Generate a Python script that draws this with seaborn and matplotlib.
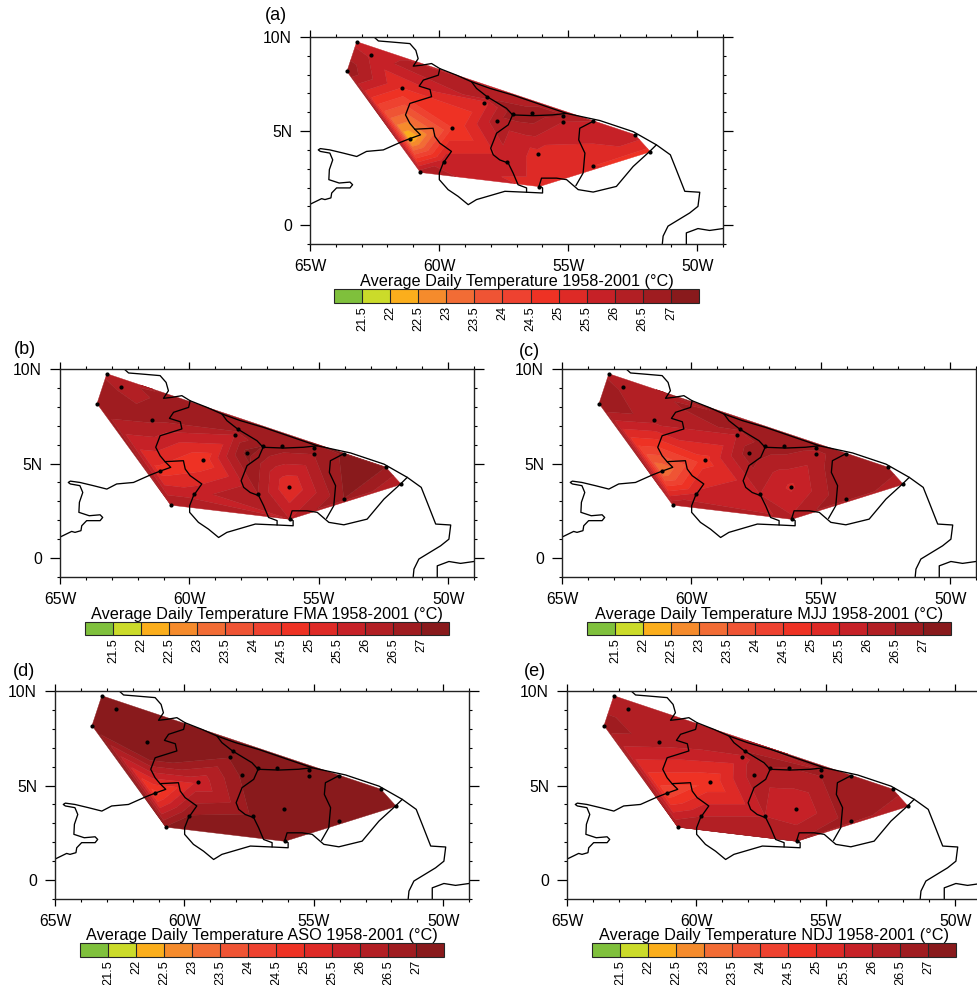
# Average daily temperature maps, five panels, stations interpolated on the Guianas
import numpy as np
import matplotlib
matplotlib.use('Agg')
import matplotlib.pyplot as plt
import seaborn as sns

sns.set_theme(style='white')
plt.rcParams['font.family'] = ['Liberation Sans', 'DejaVu Sans']
plt.rcParams['axes.linewidth'] = 1.0
plt.rcParams['text.color'] = 'black'
plt.rcParams['axes.labelcolor'] = 'black'
plt.rcParams['xtick.color'] = 'black'
plt.rcParams['ytick.color'] = 'black'

# station positions
station_lon = [-63.19, -62.64, -63.57, -61.45, -61.13, -60.72, -59.81, -59.49, -58.25, -58.14, -57.77,
               -57.15, -57.35, -56.41, -56.15, -56.12, -55.18, -55.19, -54.03, -54.03, -52.41, -51.81]
station_lat = [9.75, 9.03, 8.17, 7.30, 4.60, 2.80, 3.37, 5.17, 6.51, 6.81, 5.56,
               5.93, 3.37, 5.94, 3.77, 2.05, 5.82, 5.49, 5.52, 3.14, 4.81, 3.90]

# temperature at each station for each panel
temp_annual = [25.8, 25.9, 26.9, 25.0, 22.0, 26.3, 25.8, 24.5, 25.3, 26.4, 26.3,
               26.8, 25.8, 26.9, 25.3, 25.3, 26.6, 26.0, 26.0, 25.0, 25.8, 24.8]
temp_fma = [26.4, 26.4, 27.0, 26.6, 24.8, 26.5, 25.8, 24.6, 26.0, 26.8, 27.2,
            27.0, 26.5, 26.8, 25.0, 26.0, 26.8, 26.5, 27.1, 27.0, 27.0, 26.0]
temp_mjj = [26.4, 26.4, 27.0, 26.2, 23.0, 26.4, 25.6, 24.8, 26.0, 26.6, 26.8,
            26.8, 26.0, 26.8, 25.4, 26.1, 26.6, 26.3, 26.9, 27.0, 26.9, 26.0]
temp_aso = [27.3, 27.3, 27.4, 28.5, 24.3, 27.05, 27.05, 25.6, 27.05, 27.3, 27.1,
            27.4, 27.1, 27.4, 27.3, 27.3, 27.4, 27.3, 27.3, 27.3, 27.2, 27.1]
temp_ndj = [26.0, 26.2, 26.8, 26.2, 24.2, 26.5, 26.0, 24.6, 25.8, 26.5, 26.3,
            26.5, 26.0, 26.5, 25.5, 26.5, 26.5, 26.5, 26.9, 26.8, 26.8, 26.0]

# coast and borders, lon then lat
coast_lon = [-62.52, -62.35, -61.90, -61.13, -60.90, -60.81, -61.0, -60.68, -60.29, -59.97, -59.32, -58.74, -58.03,
             -57.13, -55.06, -53.77, -52.48, -51.58, -51.04, -50.81, -50.48, -49.90, -49.97, -50.29, -51.13, -51.32, -51.35]
coast_lat = [10.0, 9.79, 9.74, 9.65, 9.29, 8.85, 8.45, 8.50, 8.59, 8.32, 7.97, 7.62, 7.27,
             6.91, 5.94, 5.56, 4.97, 4.27, 3.74, 2.95, 1.80, 1.75, 1.0, 0.65, -0.05, -0.58, -0.99]
delta_lon = [-50.42, -50.42, -49.97, -49.52, -49.0]
delta_lat = [-1.0, -0.41, -0.18, -0.28, -0.18]
west_lon = [-59.97, -60.03, -60.61, -60.77, -60.35, -60.29, -61.13, -61.30, -61.13, -60.94, -60.72, -61.13, -61.52, -62.16, -62.81,
            -63.19, -63.71, -64.23, -64.60, -64.68, -64.60, -64.23, -64.12, -64.25, -64.27, -63.87, -63.45, -63.35, -63.45, -63.97,
            -64.16, -64.19, -64.42, -64.55, -65.0]
west_lat = [8.32, 7.97, 7.71, 7.39, 7.21, 6.83, 6.47, 5.86, 5.41, 5.10, 4.80, 4.60, 4.39, 4.00, 3.92,
            3.65, 3.83, 4.0, 4.07, 4.0, 3.92, 3.83, 3.47, 2.95, 2.42, 2.24, 2.29, 2.15, 1.98, 1.98,
            1.71, 1.45, 1.36, 1.41, 1.11]
south_lon = [-60.94, -60.23, -60.16, -59.97, -59.52, -59.84, -59.99, -59.99, -59.65, -59.26, -58.87, -58.55, -57.45, -56.61,
             -55.99, -55.99, -56.12, -56.03, -55.45, -55.06, -54.61, -54.03, -53.13, -52.48, -51.84, -51.58]
south_lat = [5.10, 5.15, 4.71, 4.36, 3.92, 3.30, 2.77, 2.42, 1.89, 1.53, 1.09, 1.36, 1.80, 1.75,
             1.71, 1.98, 2.10, 2.50, 2.50, 2.42, 1.89, 1.76, 2.06, 3.12, 3.92, 4.27]
guyana_lon = [-58.74, -58.55, -58.14, -57.39, -57.15, -57.32, -57.77, -58.0, -57.90, -57.65, -57.32, -57.13, -56.94, -56.61, -56.61]
guyana_lat = [7.62, 7.27, 6.83, 6.21, 5.86, 5.33, 4.89, 4.09, 3.74, 3.47, 3.30, 2.77, 2.15, 1.98, 1.75]
suriname_lon = [-57.15, -56.35, -55.60, -55.06]
suriname_lat = [5.86, 5.82, 5.86, 5.94]
guiana_lon = [-54.03, -54.55, -54.59, -54.35, -54.42, -54.70]
guiana_lat = [5.52, 5.15, 4.53, 3.83, 2.77, 2.10]

borders = [(coast_lon, coast_lat), (delta_lon, delta_lat), (west_lon, west_lat),
           (south_lon, south_lat), (guyana_lon, guyana_lat), (suriname_lon, suriname_lat), (guiana_lon, guiana_lat)]

levels = [21.5, 22, 22.5, 23, 23.5, 24, 24.5, 25, 25.5, 26, 26.5, 27]
level_labels = ['21.5', '22', '22.5', '23', '23.5', '24', '24.5', '25', '25.5', '26', '26.5', '27']
palette = ['#7fc03c', '#cbdb2a', '#fbae1c', '#f58b2c', '#f26c35', '#ef5434', '#ee4230', '#ee3224',
           '#de2a26', '#c62127', '#b21f24', '#9f1c20', '#891a1c']

panels = [
    ('(a)', '1958-2001', temp_annual, (310, 723, 37, 244), (334, 699, 289, 303), (265, 16)),
    ('(b)', 'FMA 1958-2001', temp_fma, (60, 474, 369, 577), (85, 449, 622, 635), (14, 350)),
    ('(c)', 'MJJ 1958-2001', temp_mjj, (562, 976, 369, 577), (587, 951, 622, 635), (519, 351)),
    ('(d)', 'ASO 1958-2001', temp_aso, (55, 469, 691, 899), (80, 444, 943, 957), (13, 671)),
    ('(e)', 'NDJ 1958-2001', temp_ndj, (567, 981, 691, 899), (592, 956, 943, 957), (524, 671)),
]

W, H = 978, 985
fig = plt.figure(figsize=(W / 100, H / 100), dpi=100)


def pixel_box(left, right, top, bottom):
    return [left / W, 1 - bottom / H, (right - left) / W, (bottom - top) / H]


for tag, period, temps, box, bar_box, tag_pos in panels:
    ax = fig.add_axes(pixel_box(*box))
    filled = ax.tricontourf(station_lon, station_lat, temps, levels=levels, colors=palette, extend='both',
                            antialiased=True)
    filled.set_edgecolor('face')
    filled.set_linewidth(0.3)
    for lon, lat in borders:
        sns.lineplot(x=lon, y=lat, sort=False, estimator=None, color='black', linewidth=0.95,
                     solid_joinstyle='round', ax=ax, legend=False)
    sns.scatterplot(x=station_lon, y=station_lat, color='black', s=9, linewidth=0, ax=ax, zorder=5, legend=False)

    ax.set_xlim(-65, -49)
    ax.set_ylim(-1, 10)
    ax.set_xticks([-65, -60, -55, -50])
    ax.set_xticklabels(['65W', '60W', '55W', '50W'], fontsize=11.3)
    ax.set_yticks([0, 5, 10])
    ax.set_yticklabels(['0', '5N', '10N'], fontsize=11.3)
    ax.set_xticks(np.arange(-65, -48), minor=True)
    ax.set_yticks(np.arange(-1, 11), minor=True)
    ax.tick_params(axis='x', which='major', direction='out', length=5, width=0.9, top=True, bottom=True, pad=6)
    ax.tick_params(axis='x', which='minor', direction='out', length=2.5, width=0.8, top=True, bottom=True)
    ax.tick_params(axis='y', which='major', direction='out', length=7, width=0.9, left=True, right=True, pad=6)
    ax.tick_params(axis='y', which='minor', direction='out', length=2.5, width=0.8, left=True, right=True)
    for spine in ax.spines.values():
        spine.set_color('#222222')

    fig.text(tag_pos[0] / W, 1 - tag_pos[1] / H, tag, fontsize=13, ha='left', va='center')

    cax = fig.add_axes(pixel_box(*bar_box))
    cbar = fig.colorbar(filled, cax=cax, orientation='horizontal', extendrect=True, extendfrac=1 / 11, drawedges=True)
    cbar.set_ticks(levels)
    cbar.set_ticklabels(level_labels)
    cbar.ax.tick_params(labelsize=9.2, labelrotation=90, length=0, pad=2)
    cbar.ax.minorticks_off()
    cbar.outline.set_linewidth(0.8)
    cbar.dividers.set_linewidth(0.8)
    cax.set_title('Average Daily Temperature ' + period + ' (°C)', fontsize=11.7, pad=1.5)

fig.savefig('out.png', dpi=100)
